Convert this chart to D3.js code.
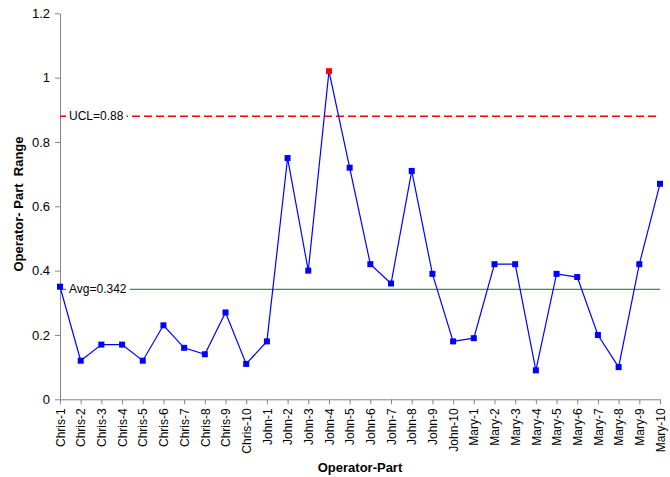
<!DOCTYPE html>
<html><head><meta charset="utf-8">
<script src="https://cdn.jsdelivr.net/npm/d3@7"></script>
<style>body{margin:0;background:#fff;} text{font-family:"Liberation Sans",Arial,sans-serif;}</style>
</head><body>
<svg id="c" width="670" height="477"></svg>
<script>
const categories = ["Chris-1","Chris-2","Chris-3","Chris-4","Chris-5","Chris-6","Chris-7","Chris-8","Chris-9","Chris-10",
"John-1","John-2","John-3","John-4","John-5","John-6","John-7","John-8","John-9","John-10",
"Mary-1","Mary-2","Mary-3","Mary-4","Mary-5","Mary-6","Mary-7","Mary-8","Mary-9","Mary-10"];
const ranges = [0.35,0.12,0.17,0.17,0.12,0.23,0.16,0.14,0.27,0.11,
0.18,0.75,0.40,1.02,0.72,0.42,0.36,0.71,0.39,0.18,
0.19,0.42,0.42,0.09,0.39,0.38,0.20,0.10,0.42,0.67];
const yTicks = [0,0.2,0.4,0.6,0.8,1,1.2];
const ucl = 0.88;
const avg = 0.342;

(function(){
const svg = d3.select("#c");
const mLeft = 60, mRight = 660, mTop = 13.3, mBottom = 399.3;
const x = d3.scalePoint().domain(categories).range([mLeft, mRight]);
const y = d3.scaleLinear().domain([0, 1.2]).range([mBottom, mTop]);

const yAxis = svg.append("g").attr("transform", `translate(${mLeft},0)`)
  .call(d3.axisLeft(y).tickValues(yTicks).tickFormat(d => d3.format("~g")(d)).tickSize(5).tickSizeOuter(0));
yAxis.selectAll("path,line").attr("stroke", "#868686");
yAxis.selectAll("text").attr("font-size", "13px").attr("fill", "#000").attr("dx", "-2");

const xAxis = svg.append("g").attr("transform", `translate(0,${mBottom})`)
  .call(d3.axisBottom(x).tickSize(5).tickSizeOuter(0));
xAxis.selectAll("path,line").attr("stroke", "#868686");
xAxis.selectAll("text").attr("font-size", "12px").attr("fill", "#000")
  .attr("transform", "rotate(-90)").attr("text-anchor", "end")
  .attr("x", -9).attr("y", 0).attr("dy", "0.35em");

svg.append("line").attr("x1", mLeft).attr("x2", mRight).attr("y1", y(ucl)).attr("y2", y(ucl))
  .attr("stroke", "#ff0000").attr("stroke-width", 1.3).attr("stroke-dasharray", "8,4");
svg.append("line").attr("x1", mLeft).attr("x2", mRight).attr("y1", y(avg)).attr("y2", y(avg))
  .attr("stroke", "#1a6b1a").attr("stroke-width", 1);

function lineLabel(txt, v) {
  const g = svg.append("g");
  const r = g.append("rect").attr("fill", "#fff");
  const t = g.append("text").attr("x", 69).attr("y", y(v)).attr("dy", "0.35em")
    .attr("font-size", "12px").attr("fill", "#000").text(txt);
  const b = t.node().getBBox();
  r.attr("x", b.x - 3).attr("y", b.y).attr("width", b.width + 6).attr("height", b.height);
}
lineLabel("UCL=0.88", ucl);
lineLabel("Avg=0.342", avg);

const line = d3.line().x((d, i) => x(categories[i])).y(d => y(d));
svg.append("path").datum(ranges).attr("d", line).attr("fill", "none").attr("stroke", "#0000ff").attr("stroke-width", 1.2);
svg.selectAll("rect.pt").data(ranges).enter().append("rect").attr("class", "pt")
  .attr("x", (d, i) => x(categories[i]) - 3).attr("y", d => y(d) - 3)
  .attr("width", 6).attr("height", 6)
  .attr("fill", d => d > ucl ? "#ff0000" : "#0000ff");

svg.append("text").attr("x", 360).attr("y", 472).attr("text-anchor", "middle")
  .attr("font-size", "13px").attr("font-weight", "bold").text("Operator-Part");
svg.append("text").attr("transform", "translate(23,204) rotate(-90)").attr("text-anchor", "middle")
  .attr("font-size", "13px").attr("font-weight", "bold").style("white-space", "pre")
  .text("Operator- Part  Range");
})();
</script>
</body></html>
